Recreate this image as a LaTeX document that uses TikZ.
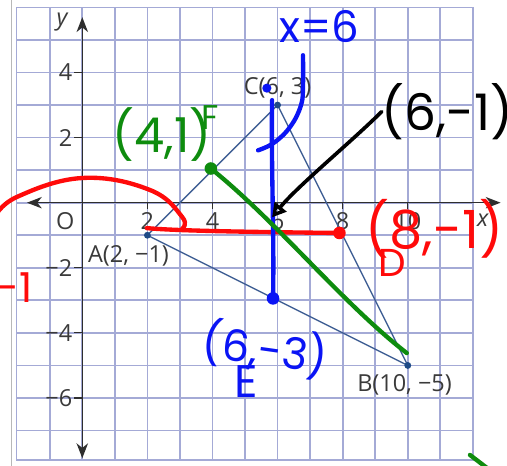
\documentclass[tikz,border=0pt]{standalone}
\usepackage{fontspec}
\setmainfont{Open Sans}
\newfontfamily\hand{Poppins}
\usetikzlibrary{arrows.meta}
\definecolor{gridc}{HTML}{A4AAD6}
\definecolor{framec}{HTML}{B8B8B8}
\definecolor{axisc}{HTML}{2E2E2E}
\definecolor{labc}{HTML}{3A3A3A}
\definecolor{tric}{HTML}{3F5F94}
\definecolor{dotc}{HTML}{1E4A86}
\definecolor{hred}{HTML}{FF0A0A}
\definecolor{hblue}{HTML}{0A14F5}
\definecolor{hgreen}{HTML}{0E8C0E}
\begin{document}
\begin{tikzpicture}[x=1cm,y=1cm,
  gridline/.style={gridc, line width=1.5pt},
  axisline/.style={axisc, line width=1.2pt},
  axtip/.tip={Stealth[length=13pt,width=10pt,inset=4pt]},
  tick/.style={axisc, line width=1pt},
  ticklab/.style={labc, font=\fontsize{20.5}{24}\selectfont, inner sep=0pt},
  ptlab/.style={labc, font=\fontsize{20.5}{24}\selectfont, inner sep=0pt},
  tri/.style={tric, line width=1.2pt},
  ptdot/.style={circle, fill=dotc, inner sep=0pt, minimum size=6pt},
  stroke/.style={line width=3.8pt, line cap=round, line join=round},
  handtxt/.style={inner sep=0pt, font=\hand\fontsize{#1}{#1}\selectfont},
]
\useasboundingbox (-2.528,-8.089) rectangle (13.048,6.227);
\fill[white] (-2.528,-8.089) rectangle (13.048,6.227);

% frame line at left
\draw[framec, line width=1pt] (-2.18,6.3) -- (-2.18,-8.2);

% grid
\foreach \x in {-1,...,11} \draw[gridline] (\x,-7.9) -- (\x,6);
\foreach \y in {-7,...,5} \draw[gridline] (-2.02,\y) -- (12,\y);
\draw[gridline] (-2.02,-7.9) rectangle (12,6);

% axes
\coordinate (xl) at (-1.7,0);
\coordinate (xr) at (12.85,0);
\coordinate (yb) at (0,-7.85);
\coordinate (yt) at (0,5.7);
\draw[axisline, axtip-axtip] (xl) -- (xr);
\draw[axisline, axtip-axtip] (yb) -- (yt);

\foreach \x in {2,4,6,8,10} {
  \draw[tick] (\x,0) -- (\x,-0.2);
  \node[ticklab] (tx\x) at (\x,-0.56) {\x};
}
\foreach \y/\t in {4/4,2/2,-2/{−2},-4/{−4},-6/{−6}} {
  \draw[tick] (0,\y) -- (-0.25,\y);
  \node[ticklab, anchor=east] (ty\y) at (-0.3,\y) {\t};
}
\node[ticklab] (origin) at (-0.52,-0.58) {O};
\node[ticklab, font=\itshape\fontsize{20.5}{24}\selectfont] (ylab) at (-0.62,5.55) {y};
\node[ticklab, font=\itshape\fontsize{20.5}{24}\selectfont] (xlab) at (12.3,-0.55) {x};

% triangle
\coordinate (A) at (2,-1);
\coordinate (B) at (10,-5);
\coordinate (C) at (6,3);
\draw[tri] (A) -- (B) -- (C) -- cycle;
\node[ptdot] (Ad) at (A) {};
\node[ptdot] (Bd) at (B) {};
\node[ptdot] (Cd) at (C) {};
\node[ptlab] (Alab) at (1.42,-1.64) {A(2, −1)};
\node[ptlab] (Blab) at (9.9,-5.6) {B(10, −5)};
\node[ptlab] (Clab) at (6.0,3.52) {C(6, 3)};

% ---- handwritten annotations ----
% red
\draw[hred, stroke] plot[smooth, tension=0.7] coordinates {(-2.7,-0.45) (-2.0,0.18) (0.02,0.76) (2.08,0.39) (3.07,-0.44) (3.07,-0.8)};
\coordinate (Ared) at (1.98,-0.78);
\coordinate (D) at (7.9,-0.93);
\draw[hred, stroke] (Ared) .. controls (2.8,-0.86) and (5,-0.9) .. (D);
\node[circle, fill=hred, inner sep=0pt, minimum size=11pt] (Dd) at (D) {};
\node[hred, handtxt=46, anchor=west] (Dlab) at (8.7,-0.8) {(8,-1)};
\node[hred, handtxt=34] (Dname) at (9.53,-1.85) {D};
\node[hred, handtxt=36, anchor=east] (m1) at (-1.52,-2.6) {-1};

% blue
\node[hblue, handtxt=38] (x6) at (7.28,5.41) {x=6};
\draw[hblue, stroke] plot[smooth, tension=0.7] coordinates {(6.78,4.53) (6.78,3.6) (6.72,3.0) (6.4,2.35) (5.9,1.85) (5.4,1.61)};
\coordinate (Etop) at (5.83,3.15);
\coordinate (E) at (5.86,-2.94);
\node[circle, fill=hblue, inner sep=0pt, minimum size=8pt] (Ctopd) at (5.67,3.52) {};
\draw[hblue, stroke] (Etop) .. controls (5.8,1) and (5.9,-1) .. (E);
\node[circle, fill=hblue, inner sep=0pt, minimum size=11pt] (Ed) at (E) {};
\node[hblue, handtxt=38, rotate=-8] (Elab) at (5.62,-4.5) {(6,-3)};
\node[hblue, handtxt=40] (Ename) at (5.05,-5.5) {E};

% green
\coordinate (F) at (3.95,1.05);
\coordinate (Gend) at (9.97,-4.62);
\draw[hgreen, stroke] (F) .. controls (6,-0.6) and (8,-3.1) .. (Gend);
\node[circle, fill=hgreen, inner sep=0pt, minimum size=11pt] (Fd) at (F) {};
\node[hgreen, handtxt=42] (Flab) at (2.45,2.1) {(4,1)};
\node[hgreen, handtxt=30] (Fname) at (3.92,2.62) {F};
\coordinate (g1) at (11.91,-7.75);
\coordinate (g2) at (12.5,-8.2);
\draw[hgreen, stroke] (g1) -- (g2);

% black
\node[handtxt=44, anchor=west] (P61) at (9.2,2.8) {(6,-1)};
\coordinate (ptip) at (5.83,-0.45);
\draw[black, stroke, line width=3.2pt, -{Triangle[open, length=12pt, width=13pt, line width=3pt]}]
  (P61.west) .. controls (8.3,1.9) and (6.6,0.5) .. (ptip);
\end{tikzpicture}
\end{document}
